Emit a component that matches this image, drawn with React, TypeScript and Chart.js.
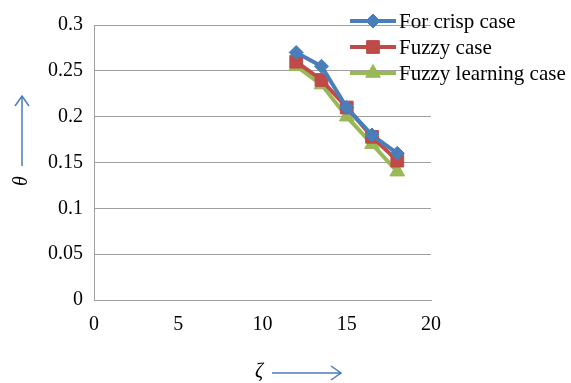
import React, { useEffect, useRef } from "react";
import { Chart, registerables } from "chart.js";
import { drawPoint } from "chart.js/helpers";
Chart.register(...registerables);

const xValues = [12, 13.5, 15, 16.5, 18];
const crisp = [0.27, 0.255, 0.21, 0.18, 0.16];
const fuzzy = [0.26, 0.24, 0.21, 0.178, 0.152];
const fuzzyLearning = [0.255, 0.235, 0.2, 0.17, 0.14];
const seriesNames = ["For crisp case", "Fuzzy case", "Fuzzy learning case"];
const colors = ["#4A7EBB", "#BE4B48", "#98B954"];
const markers = ["rectRot", "rect", "triangle"];
const radii = [7, 9, 8.5];

const FONT = "'Liberation Serif', 'Times New Roman', serif";

const overlay = {
  id: "overlay",
  afterDraw(chart: any) {
    const ctx = chart.ctx;
    ctx.save();
    // legend
    for (let i = 0; i < 3; i++) {
      const y = 21 + i * 26;
      ctx.strokeStyle = colors[i];
      ctx.lineWidth = 4;
      ctx.beginPath();
      ctx.moveTo(350, y);
      ctx.lineTo(396, y);
      ctx.stroke();
      ctx.fillStyle = colors[i];
      ctx.strokeStyle = colors[i];
      ctx.lineWidth = 1;
      drawPoint(ctx, { pointStyle: markers[i], radius: radii[i], rotation: 0, borderWidth: 1 } as any, 373, y);
      ctx.fillStyle = "#000";
      ctx.font = `21px ${FONT}`;
      ctx.textBaseline = "middle";
      ctx.textAlign = "left";
      ctx.fillText(seriesNames[i], 399, y + 1);
    }
    // y title
    ctx.fillStyle = "#000";
    ctx.font = `italic 20px ${FONT}`;
    ctx.save();
    ctx.translate(22, 181);
    ctx.rotate(-Math.PI / 2);
    ctx.textAlign = "center";
    ctx.textBaseline = "middle";
    ctx.fillText("θ", 0, 0);
    ctx.restore();
    ctx.strokeStyle = "#4A7EBB";
    ctx.lineWidth = 1.5;
    ctx.beginPath();
    ctx.moveTo(22, 166);
    ctx.lineTo(22, 96);
    ctx.moveTo(15, 106);
    ctx.lineTo(22, 96);
    ctx.lineTo(29, 106);
    ctx.stroke();
    // x title
    ctx.textAlign = "center";
    ctx.textBaseline = "middle";
    ctx.fillText("ζ", 259, 372);
    ctx.beginPath();
    ctx.moveTo(272, 373);
    ctx.lineTo(341, 373);
    ctx.moveTo(331, 366);
    ctx.lineTo(341, 373);
    ctx.lineTo(331, 380);
    ctx.stroke();
    ctx.restore();
  },
};

export default function App() {
  const ref = useRef<HTMLCanvasElement>(null);
  useEffect(() => {
    document.body.style.margin = "0";
    const data = [crisp, fuzzy, fuzzyLearning];
    const chart = new Chart(ref.current!, {
      type: "scatter",
      data: {
        datasets: data.map((vals, i) => ({
          label: seriesNames[i],
          data: vals.map((v, j) => ({ x: xValues[j], y: v })),
          showLine: true,
          borderColor: colors[i],
          backgroundColor: colors[i],
          borderWidth: 4,
          pointStyle: markers[i] as any,
          pointRadius: radii[i],
          pointBorderWidth: 1,
          order: i,
        })).reverse(),
      },
      options: {
        animation: false,
        responsive: false,
        layout: { padding: { left: 0, right: 140, top: 25, bottom: 0 } },
        plugins: { legend: { display: false }, tooltip: { enabled: false } },
        scales: {
          x: {
            type: "linear",
            min: 0,
            max: 20,
            ticks: { stepSize: 5, color: "#000", font: { family: FONT, size: 20 }, padding: 13, maxRotation: 0 },
            grid: { display: false, drawTicks: false },
            border: { display: true, color: "#A0A0A0", width: 1 },
            afterFit: (s: any) => { s.height = 83; },
          },
          y: {
            min: 0,
            max: 0.3,
            ticks: {
              stepSize: 0.05,
              color: "#000",
              font: { family: FONT, size: 20 },
              padding: 11,
              callback: (v: any) => String(Math.round(Number(v) * 100) / 100),
            },
            grid: { color: "#A0A0A0", drawTicks: false },
            border: { display: true, color: "#A0A0A0", width: 1 },
            afterFit: (s: any) => { s.width = 94; },
          },
        },
      },
      plugins: [overlay],
    });
    return () => chart.destroy();
  }, []);
  return (
    <div style={{ width: 571, height: 383 }}>
      <canvas ref={ref} width={571} height={383} style={{ display: "block" }} />
    </div>
  );
}
